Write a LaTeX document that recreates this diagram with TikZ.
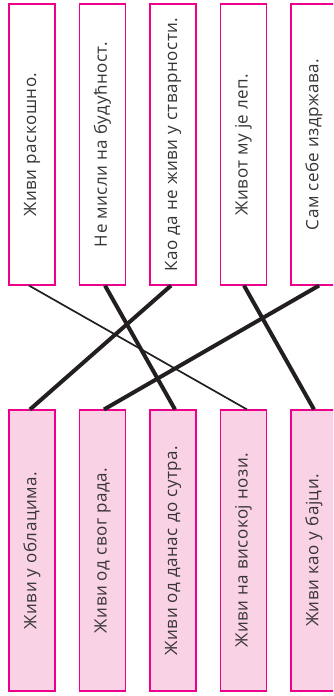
\documentclass[tikz,border=0pt]{standalone}
\usepackage{fontspec}
\setmainfont[LetterSpace=3.2]{Open Sans}
\definecolor{mag}{HTML}{EC008C}
\definecolor{pinkfill}{HTML}{F9D3E5}
\definecolor{ink}{HTML}{231F20}
\tikzset{
  card/.style={draw=mag, line width=1.1pt, minimum width=46pt, minimum height=281pt, inner sep=0pt, text=ink!90, font=\fontsize{17}{19}\selectfont},
  topcard/.style={card, fill=white},
  botcard/.style={card, fill=pinkfill},
  thick link/.style={draw=ink, line width=4pt},
  thin link/.style={draw=ink, line width=1.7pt}
}
\begin{document}
\begin{tikzpicture}[x=1pt,y=-1pt]
\useasboundingbox (0,0) rectangle (333,696);
\clip (0,0) rectangle (333,696);
\node[topcard] (t1) at (32,144.5)  {\rotatebox{90}{Живи раскошно.}};
\node[topcard] (t2) at (102.5,144.5) {\rotatebox{90}{Не мисли на будућност.}};
\node[topcard] (t3) at (173,144.5) {\rotatebox{90}{Као да не живи у стварности.}};
\node[topcard] (t4) at (243.5,144.5) {\rotatebox{90}{Живот му је леп.}};
\node[topcard] (t5) at (314,144.5) {\rotatebox{90}{Сам себе издржава.}};
\node[botcard] (b1) at (32,550.5)  {\rotatebox{90}{Живи у облацима.}};
\node[botcard] (b2) at (102.5,550.5) {\rotatebox{90}{Живи од свог рада.}};
\node[botcard] (b3) at (173,550.5) {\rotatebox{90}{Живи од данас до сутра.}};
\node[botcard] (b4) at (243.5,550.5) {\rotatebox{90}{Живи на високој нози.}};
\node[botcard] (b5) at (314,550.5) {\rotatebox{90}{Живи као у бајци.}};
\draw[thin link] ([xshift=-3pt]t1.south) -- ([xshift=3.5pt]b4.north);
\draw[thick link] ([xshift=2.5pt]t2.south) -- ([xshift=2pt]b3.north);
\draw[thick link] ([xshift=-2pt]t3.south) -- ([xshift=-2pt]b1.north);
\draw[thick link] ([xshift=0.5pt]t4.south) -- (b5.north);
\draw[thick link] ([xshift=5pt]t5.south) -- ([xshift=1.5pt]b2.north);
\end{tikzpicture}
\end{document}
